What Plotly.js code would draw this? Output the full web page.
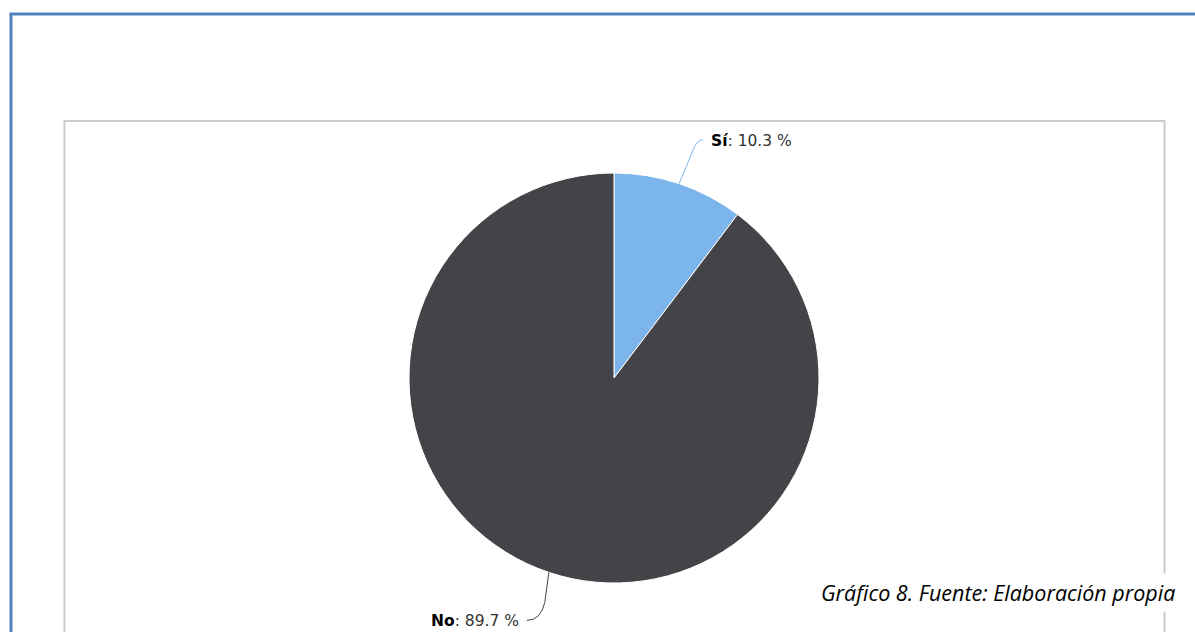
<!DOCTYPE html>
<html>
<head>
<meta charset="utf-8">
<script src="https://cdn.plot.ly/plotly-3.0.1.min.js"></script>
<style>html,body{margin:0;padding:0;background:#fff;}#chart{width:1195px;height:632px;}</style>
</head>
<body>
<div id="chart"></div>
<script>
// Data
const categories = ['Sí', 'No'];
const percentages = [10.3, 89.7];
const sliceColors = ['#7cb5ec', '#434348'];
const caption = 'Gráfico 8. Fuente: Elaboración propia';

// Layout geometry (pixels)
const W = 1195, H = 632;
const cx = 614, cy = 378, R = 205;
const px = x => x / W;
const py = y => 1 - y / H;

const pie = {
  type: 'pie',
  labels: categories,
  values: percentages,
  sort: false,
  direction: 'clockwise',
  rotation: 0,
  textinfo: 'none',
  hoverinfo: 'label+percent',
  marker: {colors: sliceColors, line: {color: '#ffffff', width: 1}},
  domain: {x: [px(cx - R), px(cx + R)], y: [py(cy + R), py(cy - R)]}
};

// Labels + connectors computed from the data
const total = percentages.reduce((a, b) => a + b, 0);
const shapes = [];
const annotations = [];
let cum = 0;
percentages.forEach((v, i) => {
  const mid = (cum + v / 2) / total * 2 * Math.PI;
  cum += v;
  const ex = cx + R * Math.sin(mid);
  const ey = cy - R * Math.cos(mid);
  const sx = Math.sin(mid) >= 0 ? 1 : -1;
  const sy = Math.cos(mid) >= 0 ? -1 : 1;
  const leg = sy < 0 ? 34 : 30;
  const ax = ex + sx * (sy < 0 ? 14 : 4), ay = ey + sy * leg;
  const bend = sy < 0 ? 10 : 18;
  const kx = ax + sx * 4, ky = ay + sy * bend;
  const bx = kx + sx * (sy < 0 ? 6 : 14), by = ky;
  const path = `M ${px(ex)} ${py(ey)} L ${px(ax)} ${py(ay)} Q ${px(kx)} ${py(ky)} ${px(bx)} ${py(by)}`;
  shapes.push({type: 'path', xref: 'paper', yref: 'paper', path: path,
    line: {color: sliceColors[i], width: 1}});
  annotations.push({
    xref: 'paper', yref: 'paper',
    x: px(bx + sx * 6), y: py(by + 1),
    xanchor: sx > 0 ? 'left' : 'right', yanchor: 'middle',
    showarrow: false,
    text: `<b style="color:#000">${categories[i]}</b>: ${v.toFixed(1)} %`,
    font: {family: 'DejaVu Sans, sans-serif', size: 15.5, color: '#333333'}
  });
});

// Frames
shapes.push({type: 'line', xref: 'paper', yref: 'paper', x0: px(11), x1: px(11), y0: py(14), y1: py(H + 5), line: {color: '#4f81bd', width: 3}});
shapes.push({type: 'line', xref: 'paper', yref: 'paper', x0: px(9.5), x1: px(W + 5), y0: py(14), y1: py(14), line: {color: '#4f81bd', width: 3}});
shapes.push({type: 'path', xref: 'paper', yref: 'paper',
  path: `M ${px(64.5)} ${py(H + 5)} L ${px(64.5)} ${py(121)} L ${px(1164.5)} ${py(121)} L ${px(1164.5)} ${py(H + 5)}`,
  line: {color: '#cccccc', width: 2}});

annotations.push({
  xref: 'paper', yref: 'paper', x: px(816), y: py(592),
  xanchor: 'left', yanchor: 'middle', showarrow: false,
  text: '<i>' + caption + '</i>',
  font: {family: 'Open Sans, sans-serif', size: 21.5, color: '#000000'},
  bgcolor: '#ffffff', borderpad: 4
});

const layout = {
  width: W, height: H,
  margin: {l: 0, r: 0, t: 0, b: 0},
  paper_bgcolor: '#ffffff',
  showlegend: false,
  shapes: shapes,
  annotations: annotations
};

Plotly.newPlot('chart', [pie], layout, {displayModeBar: false, staticPlot: true});
</script>
</body>
</html>
